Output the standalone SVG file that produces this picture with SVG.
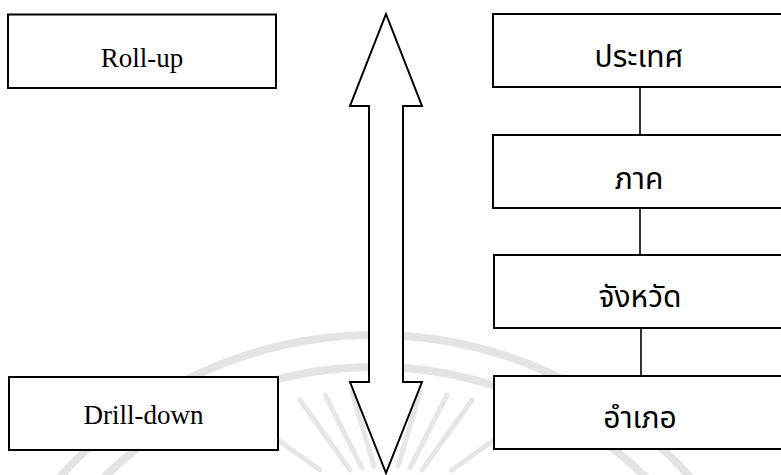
<svg xmlns="http://www.w3.org/2000/svg" width="781" height="475" viewBox="0 0 781 475">
  <style>
    .box { fill: #ffffff; stroke: #000000; stroke-width: 2; }
    .link { fill: none; stroke: #000000; stroke-width: 1.6; }
    .arrow { fill: #ffffff; stroke: #000000; stroke-width: 2; stroke-linejoin: miter; }
    .en { font-family: "Liberation Serif", "DejaVu Serif", serif; font-size: 27px; fill: #000000; text-anchor: middle; }
    .th { font-family: "Noto Sans Thai", "Noto Sans", "DejaVu Sans", sans-serif; font-size: 30px; fill: #000000; text-anchor: middle; }
    .mark { fill: none; stroke: #e4e4e4; stroke-width: 8; stroke-linecap: round; }
    .ray { stroke: #e6e6e6; stroke-width: 5; stroke-linecap: round; }
  </style>

  <rect width="781" height="475" fill="#ffffff"/>

  <!-- faint background seal -->
  <g id="seal">
    <path class="mark" d="M -45 755 A 420 420 0 0 1 795 755"/>
    <path class="mark" d="M -13 755 A 388 388 0 0 1 763 755"/>
    <g class="ray">
      <line x1="300" y1="400" x2="350" y2="470"/>
      <line x1="325" y1="395" x2="362" y2="468"/>
      <line x1="352" y1="392" x2="374" y2="466"/>
      <line x1="420" y1="392" x2="398" y2="466"/>
      <line x1="447" y1="395" x2="410" y2="468"/>
      <line x1="472" y1="400" x2="422" y2="470"/>
      <line x1="250" y1="420" x2="320" y2="470"/>
      <line x1="522" y1="420" x2="452" y2="470"/>
    </g>
  </g>

  <!-- two-way arrow between the levels -->
  <g id="updown-arrow">
    <polygon class="arrow" points="386,14 422,106 403,106 403,382 422,382 386,473 350,382 369,382 369,106 350,106"/>
  </g>

  <!-- connectors of the location hierarchy -->
  <g id="connectors">
    <line class="link" x1="640" y1="87" x2="640" y2="135"/>
    <line class="link" x1="640" y1="208" x2="640" y2="255"/>
    <line class="link" x1="641" y1="328" x2="641" y2="376"/>
  </g>

  <g id="rollup">
    <rect class="box" x="8" y="14.5" width="268" height="73.5"/>
    <text class="en" x="142" y="67">Roll-up</text>
  </g>

  <g id="drilldown">
    <rect class="box" x="9" y="377" width="269" height="73"/>
    <text class="en" x="143.5" y="424">Drill-down</text>
  </g>

  <g id="country">
    <rect class="box" x="493" y="14" width="300" height="73"/>
    <text class="th" x="639" y="67">ประเทศ</text>
  </g>

  <g id="region">
    <rect class="box" x="493" y="135" width="300" height="73"/>
    <text class="th" x="639" y="189">ภาค</text>
  </g>

  <g id="province">
    <rect class="box" x="494" y="255" width="300" height="73"/>
    <text class="th" x="640" y="307">จังหวัด</text>
  </g>

  <g id="district">
    <rect class="box" x="494" y="376" width="300" height="73"/>
    <text class="th" x="640" y="428">อำเภอ</text>
  </g>
</svg>
